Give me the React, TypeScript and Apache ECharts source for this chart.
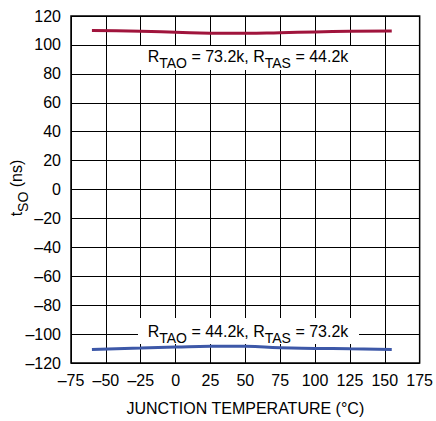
import React, { useEffect, useRef } from "react";
import * as echarts from "echarts";

const temps = [-60, -25, 0, 25, 50, 75, 100, 125, 155];
const tsoHigh = [109.9, 109.5, 108.8, 108.1, 108.1, 108.5, 109.0, 109.4, 109.7];
const tsoLow = [-110.6, -109.7, -109.0, -108.5, -108.5, -109.5, -109.9, -110.2, -110.6];
const labelHigh = "R{s|TAO} = 73.2k, R{s|TAS} = 44.2k";
const labelLow = "R{s|TAO} = 44.2k, R{s|TAS} = 73.2k";
const xTitle = "JUNCTION TEMPERATURE (°C)";
const yTitle = "t{s|SO} (ns)";

const FONT = "'Liberation Sans', Arial, Helvetica, sans-serif";

export default function App() {
  const ref = useRef<HTMLDivElement>(null);
  useEffect(() => {
    if (!ref.current) return;
    const chart = echarts.init(ref.current, null, { renderer: "svg" });
    const fmt = (v: number) => (v < 0 ? "\u2013" + Math.abs(v) : String(v));
    const rich = {
      s: { fontSize: 14, fontFamily: FONT, color: "#000", verticalAlign: "bottom", padding: [0, 0, -6, 0] },
    };
    chart.setOption({
      animation: false,
      backgroundColor: "#fff",
      grid: {
        left: 71,
        right: 13,
        top: 16,
        bottom: 55,
        show: true,
        borderColor: "#000",
        borderWidth: 1.5,
        backgroundColor: "transparent",
      },
      xAxis: {
        type: "value",
        min: -75,
        max: 175,
        interval: 25,
        name: xTitle,
        nameLocation: "middle",
        nameGap: 37,
        nameTextStyle: { fontSize: 16, fontFamily: FONT, color: "#000" },
        axisLine: { show: false },
        axisTick: { show: false },
        axisLabel: { fontSize: 16, fontFamily: FONT, color: "#000", margin: 9, formatter: fmt },
        splitLine: { show: true, lineStyle: { color: "#000", width: 1 } },
      },
      yAxis: {
        type: "value",
        min: -120,
        max: 120,
        interval: 20,
        axisLine: { show: false },
        axisTick: { show: false },
        axisLabel: { fontSize: 16, fontFamily: FONT, color: "#000", margin: 10, formatter: fmt },
        splitLine: { show: true, lineStyle: { color: "#000", width: 1 } },
      },
      series: [
        {
          type: "line",
          data: temps.map((t, i) => [t, tsoHigh[i]]),
          smooth: true,
          showSymbol: false,
          lineStyle: { color: "#A0143C", width: 3 },
        },
        {
          type: "line",
          data: temps.map((t, i) => [t, tsoLow[i]]),
          smooth: true,
          showSymbol: false,
          lineStyle: { color: "#3D58A8", width: 3 },
        },
      ],
      graphic: [
        {
          type: "text",
          x: 16,
          y: 188,
          rotation: Math.PI / 2,
          z: 11,
          style: {
            text: yTitle,
            fontSize: 16,
            fontFamily: FONT,
            fill: "#000",
            align: "center",
            verticalAlign: "middle",
            rich: { s: { fontSize: 14, fontFamily: FONT, color: "#000", verticalAlign: "bottom", padding: [0, 0, -6, 0] } },
          },
        },
        { type: "rect", shape: { x: 138, y: 46, width: 225, height: 24 }, style: { fill: "#fff" }, z: 10 },
        {
          type: "text",
          x: 248,
          y: 56,
          z: 11,
          style: {
            text: labelHigh,
            fontSize: 16,
            fontFamily: FONT,
            fill: "#000",
            align: "center",
            verticalAlign: "middle",
            rich,
          },
        },
        { type: "rect", shape: { x: 138, y: 318, width: 221, height: 26 }, style: { fill: "#fff" }, z: 10 },
        {
          type: "text",
          x: 248,
          y: 331,
          z: 11,
          style: {
            text: labelLow,
            fontSize: 16,
            fontFamily: FONT,
            fill: "#000",
            align: "center",
            verticalAlign: "middle",
            rich,
          },
        },
      ],
    });
    return () => chart.dispose();
  }, []);
  return (
    <div
      ref={ref}
      style={{ position: "absolute", left: 0, top: 0, width: 436, height: 421 }}
    />
  );
}
